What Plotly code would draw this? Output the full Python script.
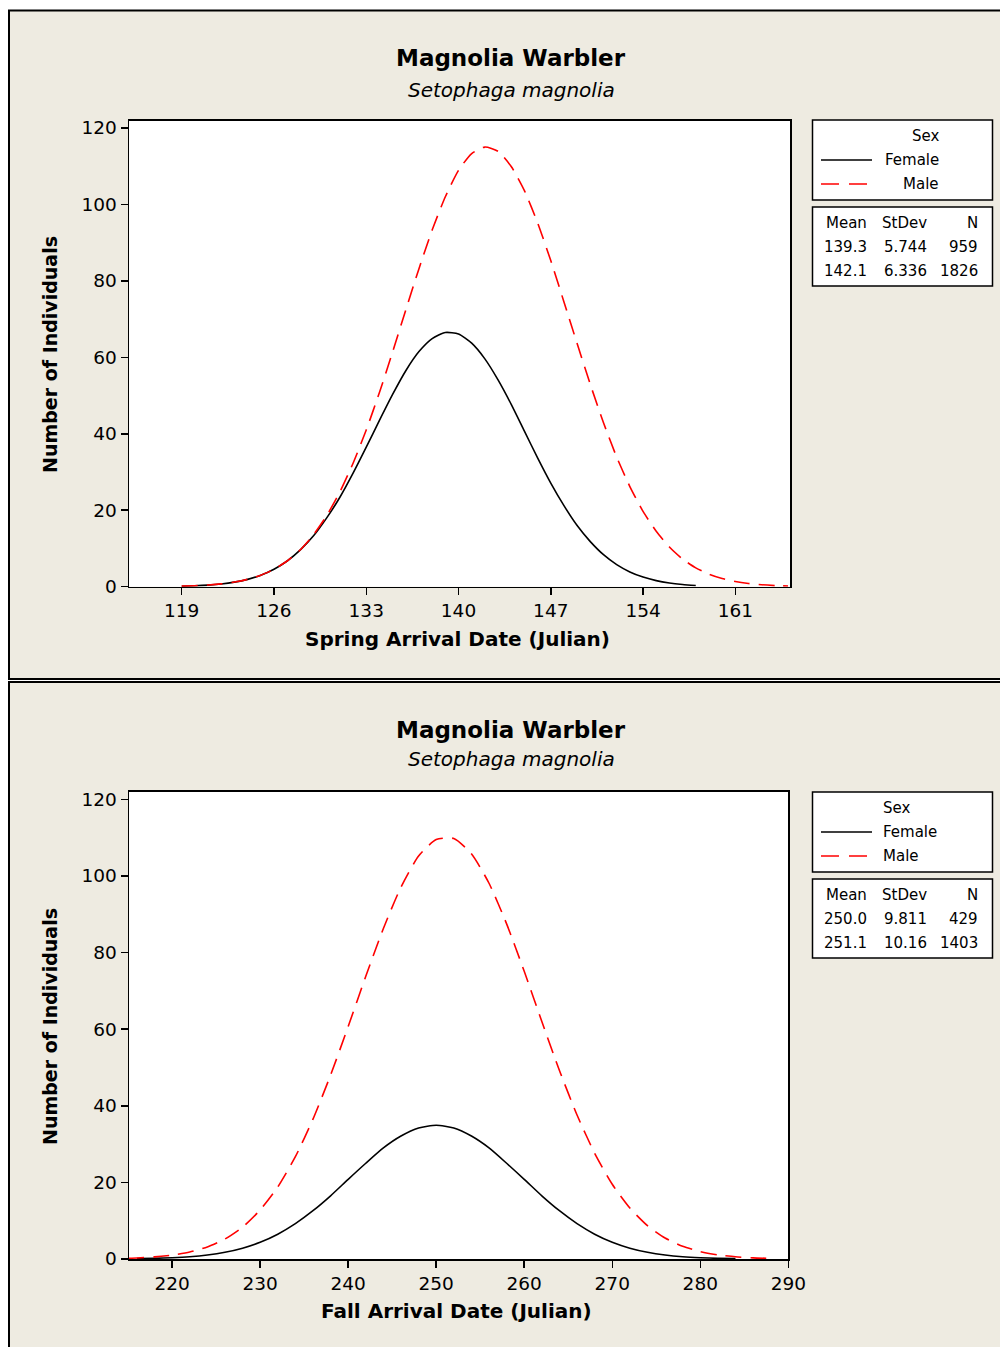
import plotly.graph_objects as go

W, H = 1000, 1347

# ---------------- data ----------------
spring_female_days = list(range(119, 159))
spring_female = [0.13, 0.24, 0.42, 0.71, 1.19, 1.92, 3.00, 4.56, 6.72, 9.62,
                 13.3, 18.0, 23.4, 29.7, 36.5, 43.5, 50.3, 56.5, 61.5, 64.9,
                 66.5, 66.1, 63.7, 59.6, 54.1, 47.7, 40.7, 33.7, 27.1, 21.2,
                 16.0, 11.8, 8.37, 5.78, 3.87, 2.52, 1.59, 0.97, 0.58, 0.33]
spring_male_days = list(range(119, 166))
spring_male = [0.15, 0.26, 0.45, 0.75, 1.22, 1.94, 3.01, 4.56, 6.72, 9.67,
               13.6, 18.6, 24.8, 32.3, 41.0, 50.8, 61.4, 72.4, 83.2, 93.3,
               102.0, 108.9, 113.3, 115.0, 113.9, 109.9, 103.6, 95.2, 85.3, 74.5,
               63.6, 52.9, 42.9, 33.9, 26.2, 19.7, 14.5, 10.4, 7.24, 4.93,
               3.28, 2.13, 1.34, 0.83, 0.50, 0.29, 0.17]

fall_female_days = list(range(216, 286, 2))
fall_female = [0.09, 0.17, 0.33, 0.59, 1.04, 1.75, 2.82, 4.37, 6.48, 9.23,
               12.6, 16.5, 20.8, 25.0, 29.0, 32.1, 34.2, 34.9, 34.2, 32.1,
               29.0, 25.0, 20.8, 16.5, 12.6, 9.23, 6.48, 4.37, 2.82, 1.75,
               1.04, 0.59, 0.33, 0.17, 0.09]
fall_male_days = [215] + list(range(216, 290, 2))
fall_male = [0.20, 0.28, 0.55, 1.02, 1.82, 3.14, 5.21, 8.31, 12.8, 18.8, 26.7,
             36.5, 48.0, 60.7, 73.8, 86.3, 97.1, 105.2, 109.5, 109.8, 105.8,
             98.1, 87.5, 75.1, 62.0, 49.2, 37.6, 27.6, 19.5, 13.3, 8.69,
             5.47, 3.31, 1.93, 1.08, 0.58, 0.30, 0.15]

spring_ticks = [119, 126, 133, 140, 147, 154, 161]
fall_ticks = [220, 230, 240, 250, 260, 270, 280, 290]
y_ticks = [0, 20, 40, 60, 80, 100, 120]

stats_header = ["Mean", "StDev", "N"]
spring_stats = [["139.3", "5.744", "959"], ["142.1", "6.336", "1826"]]
fall_stats = [["250.0", "9.811", "429"], ["251.1", "10.16", "1403"]]

title_main = "Magnolia Warbler"
title_sub = "Setophaga magnolia"
spring_xtitle = "Spring Arrival Date (Julian)"
fall_xtitle = "Fall Arrival Date (Julian)"
ytitle = "Number of Individuals"

# ---------------- styling ----------------
FONT = "DejaVu Sans"
BEIGE = "#EEEBE1"
RED = "#FF0000"


def px(x):
    return x / W


def py(y):
    return 1 - y / H


fig = go.Figure()

curve_line = dict(width=1.6, shape="spline", smoothing=0.6)
fig.add_trace(go.Scatter(x=spring_female_days, y=spring_female, mode="lines",
                         line=dict(color="black", **curve_line), xaxis="x", yaxis="y",
                         showlegend=False, hoverinfo="skip"))
fig.add_trace(go.Scatter(x=spring_male_days, y=spring_male, mode="lines",
                         line=dict(color=RED, dash="16px,9px", **curve_line),
                         xaxis="x", yaxis="y", showlegend=False, hoverinfo="skip"))
fig.add_trace(go.Scatter(x=fall_female_days, y=fall_female, mode="lines",
                         line=dict(color="black", **curve_line), xaxis="x2", yaxis="y2",
                         showlegend=False, hoverinfo="skip"))
fig.add_trace(go.Scatter(x=fall_male_days, y=fall_male, mode="lines",
                         line=dict(color=RED, dash="16px,9px", **curve_line),
                         xaxis="x2", yaxis="y2", showlegend=False, hoverinfo="skip"))

axis_common = dict(showline=True, linecolor="black", linewidth=1.5, mirror=True,
                   ticks="outside", ticklen=7, tickwidth=1.5, tickcolor="black",
                   showgrid=False, zeroline=False, automargin=False,
                   tickfont=dict(family=FONT, size=18.5, color="black"))

top_plot = (129, 790, 120.7, 586.7)
bot_plot = (129, 788.3, 791.7, 1259)

fig.update_layout(
    width=W, height=H,
    margin=dict(l=0, r=0, t=0, b=0),
    paper_bgcolor="white",
    plot_bgcolor="white",
    showlegend=False,
    xaxis=dict(domain=[px(top_plot[0]), px(top_plot[1])], range=[115.0, 165.15],
               tickvals=spring_ticks, anchor="y", **axis_common),
    yaxis=dict(domain=[py(top_plot[3]), py(top_plot[2])], range=[0, 121.9],
               tickvals=y_ticks, anchor="x", **axis_common),
    xaxis2=dict(domain=[px(bot_plot[0]), px(bot_plot[1])], range=[215.1, 290.0],
                tickvals=fall_ticks, anchor="y2", **axis_common),
    yaxis2=dict(domain=[py(bot_plot[3]), py(bot_plot[2])], range=[0, 122.0],
                tickvals=y_ticks, anchor="x2", **axis_common),
)

shapes = []
# panels
shapes.append(dict(type="rect", xref="paper", yref="paper", layer="below",
                   x0=px(9), x1=px(1010), y0=py(679), y1=py(10.5),
                   fillcolor=BEIGE, line=dict(color="black", width=2)))
shapes.append(dict(type="rect", xref="paper", yref="paper", layer="below",
                   x0=px(9), x1=px(1010), y0=py(1360), y1=py(682),
                   fillcolor=BEIGE, line=dict(color="black", width=2)))
# white plot areas
for (x0, x1, y0, y1) in (top_plot, bot_plot):
    shapes.append(dict(type="rect", xref="paper", yref="paper", layer="below",
                       x0=px(x0), x1=px(x1), y0=py(y1), y1=py(y0),
                       fillcolor="white", line=dict(width=0)))

annotations = []


def text(x, y, s, size=15, xanchor="center", bold=False, italic=False, angle=0):
    if bold:
        s = "<b>" + s + "</b>"
    if italic:
        s = "<i>" + s + "</i>"
    annotations.append(dict(x=px(x), y=py(y), xref="paper", yref="paper", text=s,
                            showarrow=False, xanchor=xanchor, yanchor="middle",
                            textangle=angle,
                            font=dict(family=FONT, size=size, color="black")))


def legend_block(top, legend_text_x, legend_anchor, stats):
    # legend box
    shapes.append(dict(type="rect", xref="paper", yref="paper",
                       x0=px(812.5), x1=px(992.5), y0=py(top + 80), y1=py(top),
                       fillcolor="white", line=dict(color="black", width=1.5)))
    text(legend_text_x, top + 16, "Sex", xanchor=legend_anchor)
    text(legend_text_x, top + 40, "Female", xanchor=legend_anchor)
    text(legend_text_x, top + 64, "Male", xanchor=legend_anchor)
    shapes.append(dict(type="line", xref="paper", yref="paper",
                       x0=px(821), x1=px(872), y0=py(top + 40), y1=py(top + 40),
                       line=dict(color="black", width=1.5)))
    shapes.append(dict(type="line", xref="paper", yref="paper",
                       x0=px(821), x1=px(868), y0=py(top + 64), y1=py(top + 64),
                       line=dict(color=RED, width=1.5, dash="18px,10px")))
    # stats box
    st = top + 87
    shapes.append(dict(type="rect", xref="paper", yref="paper",
                       x0=px(812.5), x1=px(992.5), y0=py(st + 79), y1=py(st),
                       fillcolor="white", line=dict(color="black", width=1.5)))
    cols = [869, 929, 980]
    rows = [stats_header] + stats
    for r, row in enumerate(rows):
        for c, val in enumerate(row):
            text(cols[c], st + 16 + 24 * r, val, xanchor="right")


legend_block(120, 941, "right", spring_stats)
legend_block(792, 881, "left", fall_stats)

# titles
text(511, 58, title_main, size=23, bold=True)
text(511, 90, title_sub, size=20, italic=True)
text(511, 730, title_main, size=23, bold=True)
text(511, 759, title_sub, size=20, italic=True)

# axis titles
text(457, 639, spring_xtitle, size=20, bold=True)
text(456, 1311, fall_xtitle, size=20, bold=True)
text(50, 355, ytitle, size=19, bold=True, angle=-90)
text(50, 1027, ytitle, size=19, bold=True, angle=-90)

fig.update_layout(shapes=shapes, annotations=annotations, hovermode=False)

# remove the browser's default page margin so the figure fills the window
page_js = ("document.documentElement.style.margin='0';"
           "document.documentElement.style.overflow='hidden';"
           "document.body.style.margin='0';"
           "document.body.style.overflow='hidden';")

fig.write_html("out.html", post_script=page_js,
               config={"displayModeBar": False, "staticPlot": True})
